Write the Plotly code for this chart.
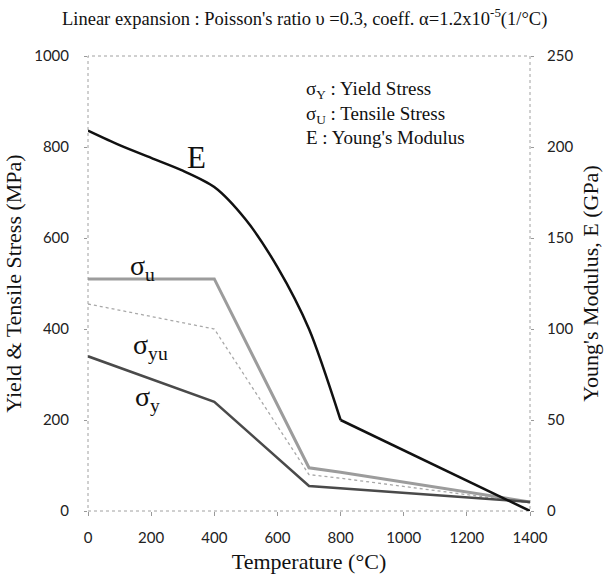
import plotly.graph_objects as go

# Data
temp_y = [0, 400, 700, 800, 1400]
sigma_y = [340, 240, 55, 50, 20]

temp_u = [0, 400, 700, 800, 1400]
sigma_u = [510, 510, 95, 85, 20]

temp_yu = [0, 400, 700, 800, 1400]
sigma_yu = [455, 400, 80, 72, 18]

temp_E = [0, 100, 200, 300, 400, 500, 600, 700, 800, 1400]
young_E = [209, 201, 194, 187, 178, 160, 134, 100, 50, 0]

x_ticks = [0, 200, 400, 600, 800, 1000, 1200, 1400]

serif = "Liberation Serif, Times New Roman, serif"
sans = "Lato, Calibri, sans-serif"

k = temp_E.index(800)

fig = go.Figure()
fig.add_trace(go.Scatter(x=temp_yu, y=sigma_yu, mode="lines",
                         line=dict(color="#a8a8a8", width=1.3, dash="dot"), yaxis="y"))
fig.add_trace(go.Scatter(x=temp_u, y=sigma_u, mode="lines",
                         line=dict(color="#9c9c9c", width=3), yaxis="y"))
fig.add_trace(go.Scatter(x=temp_y, y=sigma_y, mode="lines",
                         line=dict(color="#4a4a4a", width=2.5), yaxis="y"))
# Young's modulus: smooth curve up to 800 °C, then straight to 1400 °C
fig.add_trace(go.Scatter(x=temp_E[:k + 1], y=young_E[:k + 1], mode="lines",
                         line=dict(color="#111111", width=2.5, shape="spline", smoothing=0.8),
                         yaxis="y2"))
fig.add_trace(go.Scatter(x=temp_E[k:], y=young_E[k:], mode="lines",
                         line=dict(color="#111111", width=2.5), yaxis="y2"))

fig.update_layout(
    width=611, height=583,
    margin=dict(l=88, r=81, t=56, b=72),
    plot_bgcolor="white", paper_bgcolor="white",
    showlegend=False,
    xaxis=dict(range=[0, 1400], tickvals=x_ticks, showgrid=False, zeroline=False,
               showline=False, ticks="outside", ticklen=4, tickcolor="#999",
               ticklabelstandoff=9,
               tickfont=dict(family=sans, size=15, color="#222"),
               title=dict(text="Temperature (°C)", font=dict(family=serif, size=22, color="#111"),
                          standoff=8)),
    yaxis=dict(range=[0, 1000], dtick=200, showgrid=False, zeroline=False, showline=False,
               ticks="outside", ticklen=3, tickcolor="#999", ticklabelstandoff=12,
               tickfont=dict(family=sans, size=15, color="#222"),
               title=dict(text="Yield & Tensile Stress (MPa)", font=dict(family=serif, size=22, color="#111"),
                          standoff=6)),
    yaxis2=dict(range=[0, 250], dtick=50, overlaying="y", side="right", showgrid=False,
                zeroline=False, showline=False, ticks="outside", ticklen=3, tickcolor="#999",
                ticklabelstandoff=10,
                tickfont=dict(family=sans, size=15, color="#222"),
                title=dict(text="Young's Modulus, E (GPa)", font=dict(family=serif, size=22, color="#111"),
                           standoff=10)),
    shapes=[dict(type="rect", xref="paper", yref="paper", x0=0, y0=0, x1=1, y1=1,
                 line=dict(color="#a0a0a0", width=1, dash="dot"), layer="below")],
    annotations=[
        dict(text="Linear expansion : Poisson's ratio υ =0.3, coeff. α=1.2x10<sup>-5</sup>(1/°C)",
             xref="paper", yref="paper", x=0.49, y=1.0, yshift=39, showarrow=False,
             xanchor="center", yanchor="middle", font=dict(family=serif, size=18.5, color="#111")),
        dict(text="σ<sub>Y</sub> : Yield Stress<br>σ<sub>U</sub> : Tensile Stress<br>E : Young's Modulus",
             xref="x", yref="paper", x=685, y=0.955, showarrow=False, align="left",
             xanchor="left", yanchor="top", font=dict(family=serif, size=19, color="#111")),
        dict(text="E", xref="x", yref="y", x=345, y=778, showarrow=False,
             font=dict(family=serif, size=31, color="#111")),
        dict(text="σ<sub>u</sub>", xref="x", yref="y", x=172, y=535, showarrow=False,
             font=dict(family=serif, size=28, color="#111")),
        dict(text="σ<sub>yu</sub>", xref="x", yref="y", x=198, y=362, showarrow=False,
             font=dict(family=serif, size=28, color="#111")),
        dict(text="σ<sub>y</sub>", xref="x", yref="y", x=188, y=248, showarrow=False,
             font=dict(family=serif, size=28, color="#111")),
    ],
)

fig.write_html("out.html")
